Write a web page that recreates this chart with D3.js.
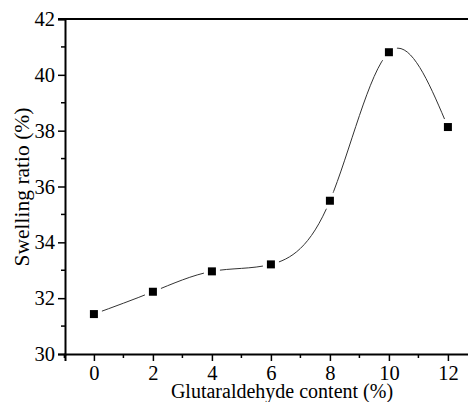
<!DOCTYPE html>
<html>
<head>
<meta charset="utf-8">
<script src="https://cdn.jsdelivr.net/npm/d3@7"></script>
</head>
<body style="margin:0">
<div id="visContainer"></div>
<script>
// glutaraldehyde content (%) and swelling ratio (%)
const content = [0, 2, 4, 6, 8, 10, 12];
const swelling = [31.43, 32.23, 32.96, 33.21, 35.49, 40.81, 38.13];
const xTicks = [0, 2, 4, 6, 8, 10, 12];
const yTicks = [30, 32, 34, 36, 38, 40, 42];

function makeVis() {
  const width = 468;
  const height = 402;
  const margins = { left: 65, right: 0, top: 19, bottom: 48 };
  const serif = "Times New Roman";

  const svg = d3.select("#visContainer").append("svg")
    .attr("width", width)
    .attr("height", height);

  const xScale = d3.scaleLinear().domain([-0.98, 13]).range([margins.left, margins.left + 13.98 * 29.5]);
  const yScale = d3.scaleLinear().domain([30, 42]).range([height - margins.bottom, margins.top]);

  // minor ticks
  const xMinor = d3.range(-1, 14, 1).filter(d => d % 2 !== 0);
  const yMinor = d3.range(31, 42, 2);

  const xAxis = svg.append("g")
    .attr("transform", `translate(0,${yScale(30)})`)
    .call(d3.axisBottom(xScale).tickValues(xTicks).tickSize(7).tickPadding(4).tickFormat(d3.format("d")));
  xAxis.append("g").selectAll("line").data(xMinor).join("line")
    .attr("x1", d => xScale(d)).attr("x2", d => xScale(d))
    .attr("y1", 0).attr("y2", 4)
    .attr("stroke", "#000").attr("stroke-width", 1.5);

  const yAxis = svg.append("g")
    .attr("transform", `translate(${xScale(-0.98)},0)`)
    .call(d3.axisLeft(yScale).tickValues(yTicks).tickSize(7).tickPadding(3).tickFormat(d3.format("d")));
  yAxis.append("g").selectAll("line").data(yMinor).join("line")
    .attr("x1", 0).attr("x2", -4)
    .attr("y1", d => yScale(d)).attr("y2", d => yScale(d))
    .attr("stroke", "#000").attr("stroke-width", 1.5);

  svg.selectAll(".domain").attr("stroke-width", 2).attr("stroke", "#000");
  svg.selectAll(".tick line").attr("stroke-width", 1.5).attr("stroke", "#000");
  svg.selectAll("g").attr("font-family", serif).attr("font-size", 20.5);
  svg.selectAll(".tick text")
    .attr("fill", "#000")
    .attr("font-family", serif)
    .attr("font-size", 20.5);

  // top border
  svg.append("line")
    .attr("x1", xScale(-0.98) - 7).attr("x2", width)
    .attr("y1", yScale(42)).attr("y2", yScale(42))
    .attr("stroke", "#000").attr("stroke-width", 2);

  const pts = content.map((c, i) => [c, swelling[i]]);

  const line = d3.line()
    .x(d => xScale(d[0]))
    .y(d => yScale(d[1]))
    .curve(d3.curveNatural);

  svg.append("path")
    .attr("d", line(pts))
    .attr("fill", "none")
    .attr("stroke", "#333")
    .attr("stroke-width", 1);

  // white gap around markers
  svg.append("g").selectAll("rect").data(pts).join("rect")
    .attr("x", d => xScale(d[0]) - 8).attr("y", d => yScale(d[1]) - 8)
    .attr("width", 16).attr("height", 16)
    .attr("fill", "#fff");

  svg.append("g").selectAll("rect").data(pts).join("rect")
    .attr("x", d => xScale(d[0]) - 4).attr("y", d => yScale(d[1]) - 4)
    .attr("width", 8).attr("height", 8)
    .attr("fill", "#000");

  svg.append("text")
    .attr("x", 282).attr("y", 398)
    .attr("text-anchor", "middle")
    .attr("font-size", 20)
    .attr("font-family", serif)
    .text("Glutaraldehyde content (%)");

  svg.append("text")
    .attr("transform", "translate(29,187) rotate(-90)")
    .attr("text-anchor", "middle")
    .attr("font-size", 21.5)
    .attr("font-family", serif)
    .text("Swelling ratio (%)");
}

makeVis();
</script>
</body>
</html>
